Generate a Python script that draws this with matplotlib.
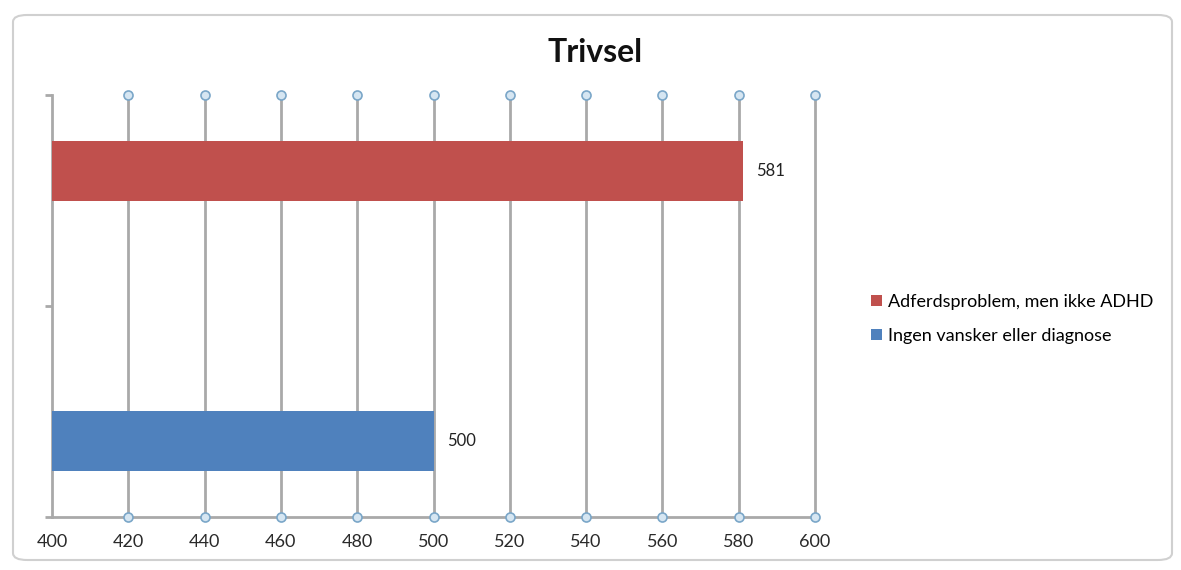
import matplotlib.pyplot as plt
import numpy as np
from matplotlib.patches import FancyBboxPatch

plt.rcParams['font.family'] = ['Lato', 'DejaVu Sans']

title = "Trivsel"
series = ["Ingen vansker eller diagnose", "Adferdsproblem, men ikke ADHD"]
values = [500, 581]
colors = ["#4F81BD", "#C0504D"]
xticks = [400, 420, 440, 460, 480, 500, 520, 540, 560, 580, 600]

fig = plt.figure(figsize=(11.81, 5.70), dpi=100)

# chart area frame (rounded, light gray), kept behind the axes
frame = FancyBboxPatch((13 / 1181, 10 / 570), 1159 / 1181, 545 / 570,
                       boxstyle="round,pad=0,rounding_size=0.012",
                       transform=fig.transFigure, facecolor="white",
                       edgecolor="#d0d0d0", linewidth=1.5, zorder=-5)
fig.patches.append(frame)

ax = fig.add_axes([52 / 1181, 53 / 570, 763 / 1181, 422 / 570])
ax.set_xlim(xticks[0], xticks[-1])
ax.set_ylim(0, 2)

# vertical gridlines with small circle ends
grid_col = "#a9a9a9"
for x in xticks[1:]:
    ax.plot([x, x], [0, 2], color=grid_col, lw=2, zorder=1, clip_on=False)
    ax.plot([x, x], [0, 2], ls="none", marker="o", ms=6.5, mfc="#d6e6f2",
            mec="#7aa6c8", mew=1.2, zorder=4, clip_on=False)

# bars: each series sits in its own category, offset within the cluster
bar_h = 0.284
offsets = [-0.14, 0.14]
for i, (name, v, c) in enumerate(zip(series, values, colors)):
    y = i + 0.5 + offsets[i]
    ax.barh(y, v - xticks[0], left=xticks[0], height=bar_h, color=c,
            label=name, zorder=3)
    ax.text(v + 3.5, y, str(v), va="center", ha="left", fontsize=12,
            color="#222222")

for s in ["top", "right"]:
    ax.spines[s].set_visible(False)
for s in ["left", "bottom"]:
    ax.spines[s].set_color(grid_col)
    ax.spines[s].set_linewidth(2)

ax.set_xticks(xticks)
ax.set_xticklabels([str(t) for t in xticks], fontsize=13, color="#2a2a2a")
ax.set_yticks([0, 1, 2])
ax.set_yticklabels([])
ax.tick_params(axis="y", length=5, width=2, color=grid_col)
ax.tick_params(axis="x", length=0, pad=12)
ax.set_facecolor("none")

fig.text(595 / 1181, 1 - 52 / 570, title, ha="center", va="center",
         fontsize=23, fontweight="bold", color="#111111")

handles, labels = ax.get_legend_handles_labels()
fig.legend(handles[::-1], labels[::-1], loc="center left",
           bbox_to_anchor=(855 / 1181, 1 - 319 / 570), frameon=False,
           fontsize=13, handlelength=0.6, handleheight=0.6,
           handletextpad=0.3, labelspacing=1.0)

fig.savefig("out.png", dpi=100)
